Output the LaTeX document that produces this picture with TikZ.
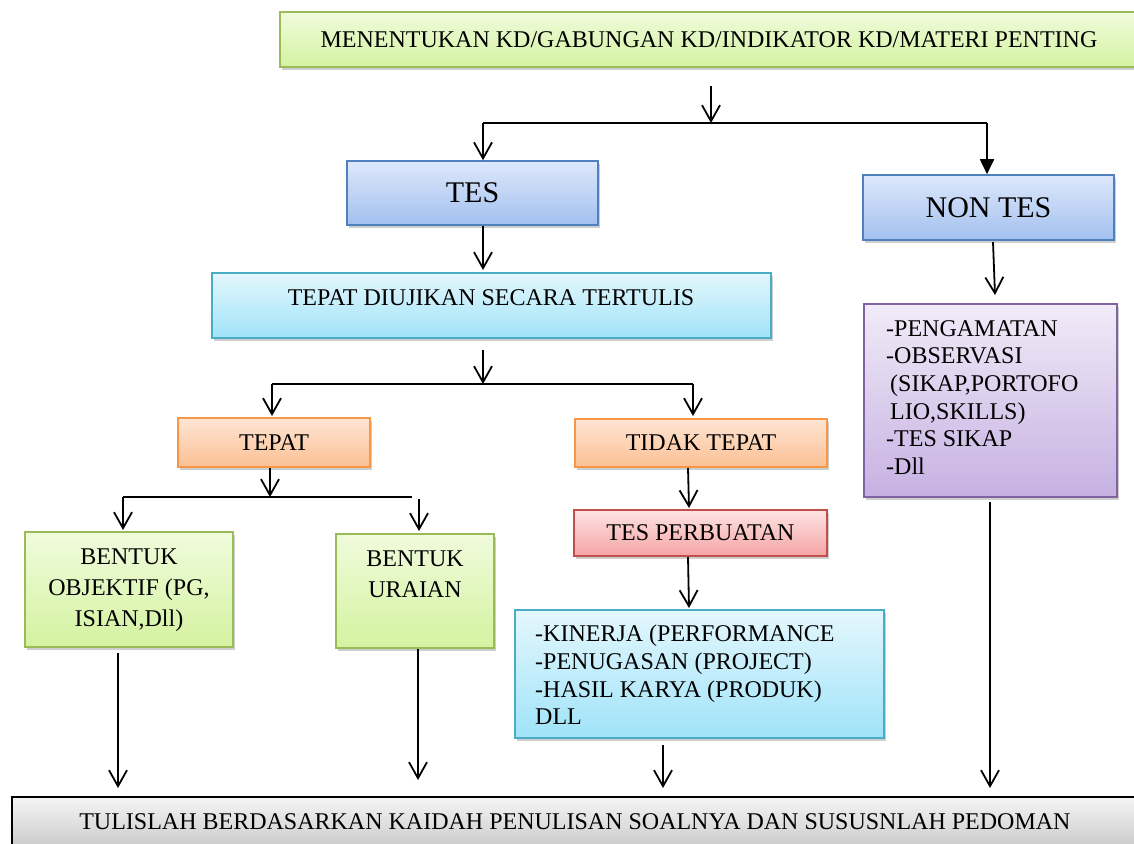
\documentclass[tikz,border=0pt]{standalone}
\usepackage{fontspec}
\setmainfont{Liberation Serif}
\usetikzlibrary{arrows.meta,shadows}
\definecolor{grnT}{HTML}{F0FBDC}\definecolor{grnB}{HTML}{D3F3A0}\definecolor{grnD}{HTML}{9BBB59}
\definecolor{bluT}{HTML}{DDE8FB}\definecolor{bluB}{HTML}{A3C0EF}\definecolor{bluD}{HTML}{4F81BD}
\definecolor{cyaT}{HTML}{E4F7FD}\definecolor{cyaB}{HTML}{A0E3F9}\definecolor{cyaD}{HTML}{4BACC6}
\definecolor{orgT}{HTML}{FEE5D4}\definecolor{orgB}{HTML}{FBC093}\definecolor{orgD}{HTML}{F79646}
\definecolor{redT}{HTML}{FDE3E3}\definecolor{redB}{HTML}{F5A4A4}\definecolor{redD}{HTML}{C0504D}
\definecolor{purT}{HTML}{F1EBF8}\definecolor{purB}{HTML}{C6B1E2}\definecolor{purD}{HTML}{8064A2}
\definecolor{gryT}{HTML}{F5F5F5}\definecolor{gryB}{HTML}{C4C4C4}
\tikzset{
  box/.style={rectangle, line width=1.6pt, inner sep=0pt,
    drop shadow={shadow xshift=2pt, shadow yshift=-3pt, opacity=0.35, fill=black!55},
    font=\fontsize{24}{27.7}\selectfont},
  greenbox/.style={box, draw=grnD, top color=grnT, bottom color=grnB},
  bluebox/.style={box, draw=bluD, top color=bluT, bottom color=bluB, font=\fontsize{30}{34}\selectfont},
  cyanbox/.style={box, draw=cyaD, top color=cyaT, bottom color=cyaB},
  orangebox/.style={box, draw=orgD, top color=orgT, bottom color=orgB},
  redbox/.style={box, draw=redD, top color=redT, bottom color=redB},
  purplebox/.style={box, draw=purD, top color=purT, bottom color=purB},
  graybox/.style={box, line width=2.4pt, draw=black, top color=gryT, bottom color=gryB},
  txt/.style={inner sep=0pt, font=\fontsize{24}{27.7}\selectfont},
  conn/.style={line width=1.8pt, draw=black},
  arr/.style={conn, -{Straight Barb[length=16pt,width=18pt,line width=1.8pt]}},
  farr/.style={conn, -{Triangle[length=15pt,width=14pt]}},
}
\begin{document}
\begin{tikzpicture}[x=1pt,y=-1pt]
\useasboundingbox (0,0) rectangle (1134,843);
% boxes
\node[greenbox, minimum width=858pt, minimum height=55pt] (top) at (709,39.5) {MENENTUKAN KD/GABUNGAN KD/INDIKATOR KD/MATERI PENTING};
\node[bluebox, minimum width=251pt, minimum height=64pt] (tes) at (472.5,193) {TES};
\node[bluebox, minimum width=251pt, minimum height=65pt] (nontes) at (988.5,207.5) {NON TES};
\node[cyanbox, minimum width=559pt, minimum height=65pt] (tdt) at (491.5,305.5) {};
\node[txt] (tdtx) at (491,298) {TEPAT DIUJIKAN SECARA TERTULIS};
\node[orangebox, minimum width=192pt, minimum height=49pt] (tepat) at (274,442.5) {TEPAT};
\node[orangebox, minimum width=252pt, minimum height=48pt] (tidak) at (701,443) {TIDAK TEPAT};
\node[greenbox, minimum width=208pt, minimum height=115pt] (obj) at (129,589.5) {};
\node[txt, align=center, anchor=north, font=\fontsize{24}{31}\selectfont] (objx) at (129,549) {BENTUK\\OBJEKTIF (PG,\\ISIAN,Dll)};
\node[greenbox, minimum width=158pt, minimum height=114pt] (ura) at (415,591) {};
\node[txt, align=center, anchor=north, font=\fontsize{24}{31}\selectfont] (urax) at (415,551) {BENTUK\\URAIAN};
\node[redbox, minimum width=253pt, minimum height=46pt] (perb) at (700.5,533) {TES PERBUATAN};
\node[cyanbox, minimum width=369pt, minimum height=128pt] (kin) at (699.5,674) {};
\node[txt, align=left, anchor=north west] (kinx) at (535,625) {-KINERJA (PERFORMANCE\\-PENUGASAN (PROJECT)\\-HASIL KARYA (PRODUK)\\DLL};
\node[purplebox, minimum width=253pt, minimum height=193pt] (pur) at (990.5,400.5) {};
\node[txt, align=left, anchor=north west] (purx) at (886,320) {-PENGAMATAN\\-OBSERVASI\\\hspace*{4pt}(SIKAP,PORTOFO\\\hspace*{4pt}LIO,SKILLS)\\-TES SIKAP\\-Dll};
\node[graybox, minimum width=1128pt, minimum height=58pt] (bot) at (576,826) {};
\node[txt] (botx) at (575,822) {TULISLAH BERDASARKAN KAIDAH PENULISAN SOALNYA DAN SUSUSNLAH PEDOMAN};
% connectors
\coordinate (a0) at (711,86);
\coordinate (j0) at (711,123);
\coordinate (j0L) at (483,123);
\coordinate (j0R) at (987,123);
\draw[arr] (a0) -- (j0);
\draw[conn] (j0L) -- (j0R);
\draw[arr] (j0L) -- (j0L |- tes.north);
\draw[farr] (j0R) -- (j0R |- nontes.north);
\coordinate (a1s) at (483,226);
\coordinate (a1e) at (483,270);
\draw[arr] (a1s) -- (a1e);
\coordinate (a2) at (483,350);
\coordinate (j1) at (483,384);
\coordinate (j1L) at (272,384);
\coordinate (j1R) at (693,384);
\draw[arr] (a2) -- (j1);
\draw[conn] (j1L) -- (j1R);
\draw[arr] (j1L) -- (272,416);
\draw[arr] (j1R) -- (693,416);
\coordinate (a3) at (270,468);
\coordinate (j2) at (270,497);
\coordinate (j2L) at (123,497);
\coordinate (j2R) at (412,497);
\draw[arr] (a3) -- (j2);
\draw[conn] (j2L) -- (j2R);
\draw[arr] (j2L) -- (123,530);
\coordinate (a4) at (419,499);
\draw[arr] (a4) -- (419,531);
\coordinate (a5s) at (688,468);
\coordinate (a5e) at (689,508);
\draw[arr] (a5s) -- (a5e);
\coordinate (a6s) at (688,557);
\coordinate (a6e) at (689,608);
\draw[arr] (a6s) -- (a6e);
\coordinate (a7s) at (993,242);
\coordinate (a7e) at (995,295);
\draw[arr] (a7s) -- (a7e);
\coordinate (b1s) at (118,653);
\coordinate (b1e) at (118,788);
\draw[arr] (b1s) -- (b1e);
\coordinate (b2s) at (418,649);
\coordinate (b2e) at (418,780);
\draw[arr] (b2s) -- (b2e);
\coordinate (b3s) at (663,745);
\coordinate (b3e) at (663,788);
\draw[arr] (b3s) -- (b3e);
\coordinate (b4s) at (990,502);
\coordinate (b4e) at (990,788);
\draw[arr] (b4s) -- (b4e);
\end{tikzpicture}
\end{document}
